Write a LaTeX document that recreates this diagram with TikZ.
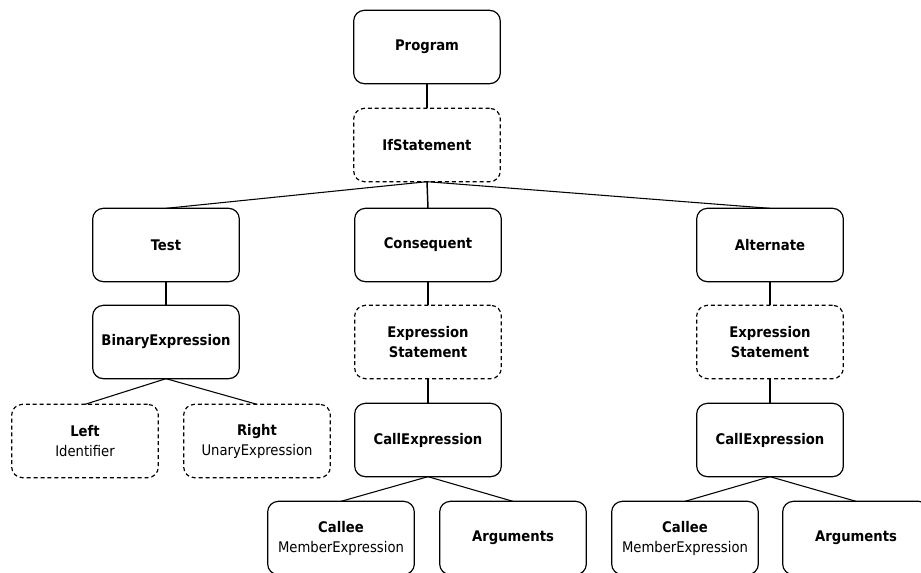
\documentclass[tikz,border=0pt]{standalone}
\usepackage{fontspec}
\setmainfont{DejaVu Sans Condensed}
\begin{document}
\begin{tikzpicture}[x=0.75pt,y=-0.75pt,
  box/.style={draw,rounded corners=8pt,line width=0.9pt,minimum width=110pt,minimum height=55pt,
    align=center,outer sep=0pt,font=\fontsize{11}{15}\selectfont,execute at begin node=\setlength{\baselineskip}{15pt}},
  dbox/.style={box,dash pattern=on 3pt off 2.2pt},
  link/.style={line width=0.8pt},
  vlink/.style={line width=1.1pt}]
\useasboundingbox (0,0) rectangle (921,572);
\node[box]  (prog) at (427,47)  {\textbf{Program}};
\node[dbox] (ifs)  at (427,145) {\textbf{IfStatement}};
\node[box]  (test) at (166,245) {\textbf{Test}};
\node[box]  (cons) at (428,245) {\textbf{Consequent}};
\node[box]  (alt)  at (770,245) {\textbf{Alternate}};
\node[box]  (bin)  at (166,342) {\textbf{BinaryExpression}};
\node[dbox] (es1)  at (428,342) {\textbf{Expression}\\\textbf{Statement}};
\node[dbox] (es2)  at (770,342) {\textbf{Expression}\\\textbf{Statement}};
\node[dbox] (left) at (85,441)  {\textbf{Left}\\Identifier};
\node[dbox] (right) at (257,441) {\textbf{Right}\\UnaryExpression};
\node[box]  (call1) at (428,440) {\textbf{CallExpression}};
\node[box]  (call2) at (770,440) {\textbf{CallExpression}};
\node[box]  (callee1) at (341,538) {\textbf{Callee}\\MemberExpression};
\node[box]  (args1) at (513,538) {\textbf{Arguments}};
\node[box]  (callee2) at (685,538) {\textbf{Callee}\\MemberExpression};
\node[box]  (args2) at (856,538) {\textbf{Arguments}};
\draw[vlink] (prog.south) -- (ifs.north);
\draw[link] (ifs.south) -- (test.north);
\draw[vlink] (ifs.south) -- (cons.north);
\draw[link] (ifs.south) -- (alt.north);
\draw[link] (test.south) -- (bin.north);
\draw[link] (bin.south) -- (left.north);
\draw[link] (bin.south) -- (right.north);
\draw[vlink] (cons.south) -- (es1.north);
\draw[vlink] (es1.south) -- (call1.north);
\draw[link] (call1.south) -- (callee1.north);
\draw[link] (call1.south) -- (args1.north);
\draw[vlink] (alt.south) -- (es2.north);
\draw[vlink] (es2.south) -- (call2.north);
\draw[link] (call2.south) -- (callee2.north);
\draw[link] (call2.south) -- (args2.north);
\end{tikzpicture}
\end{document}
